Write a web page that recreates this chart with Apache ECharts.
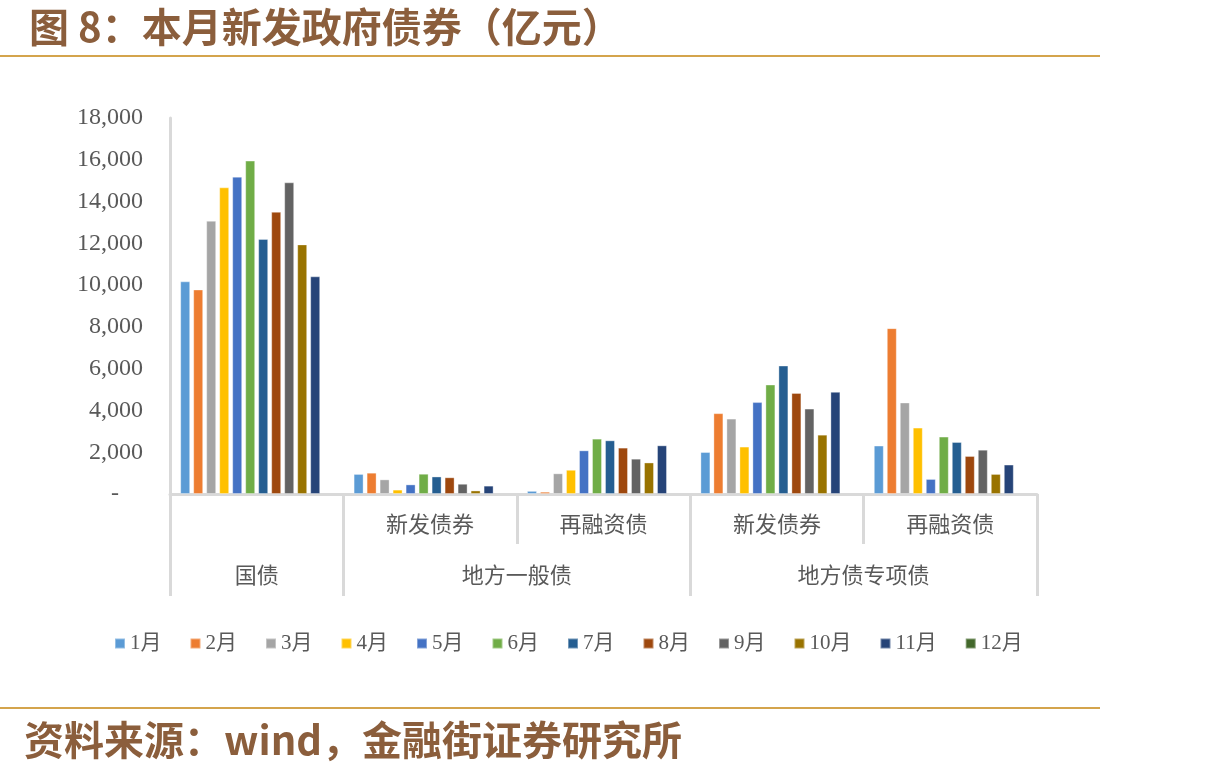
<!DOCTYPE html>
<html>
<head>
<meta charset="utf-8">
<script src="https://cdn.jsdelivr.net/npm/echarts@6/dist/echarts.min.js"></script>
<style>
  html, body { margin: 0; padding: 0; background: #fff; }
  #main { width: 1209px; height: 777px; }
</style>
</head>
<body>
<div id="main"></div>
<script>
// 子类 / 大类
var subCats = ['', '新发债券', '再融资债', '新发债券', '再融资债'];
var groupLabels = ['', '国债', '', '', '地方一般债', '', '', '', '地方债专项债', '', ''];
var groupEdges = [0, 2, 6, 10];
var months = ['1月', '2月', '3月', '4月', '5月', '6月', '7月', '8月', '9月', '10月', '11月', '12月'];
var colors = ['#5B9BD5', '#ED7D31', '#A5A5A5', '#FFC000', '#4472C4', '#70AD47',
              '#255E91', '#9E480E', '#636363', '#997300', '#264478', '#43682B'];

// 每月数值: [国债, 一般债新发, 一般债再融资, 专项债新发, 专项债再融资]
var m1  = [10180,  960,  150, 2010, 2320];
var m2  = [ 9790, 1020,  110, 3870, 7940];
var m3  = [13080,  700,  990, 3610, 4380];
var m4  = [14680,  210, 1160, 2270, 3180];
var m5  = [15190,  460, 2090, 4400,  720];
var m6  = [15960,  970, 2650, 5240, 2750];
var m7  = [12210,  840, 2570, 6150, 2490];
var m8  = [13510,  800, 2220, 4840, 1820];
var m9  = [14920,  490, 1690, 4090, 2120];
var m10 = [11950,  170, 1510, 2840,  960];
var m11 = [10420,  400, 2330, 4890, 1410];
var m12 = [null, null, null, null, null];
var monthData = [m1, m2, m3, m4, m5, m6, m7, m8, m9, m10, m11, m12];

var yMin = 0, yMax = 18000, yStep = 2000;

var chart = echarts.init(document.getElementById('main'));
var gray = '#D9D9D9';
var txt = '#595959';

var series = months.map(function (m, i) {
  return {
    name: m,
    type: 'bar',
    xAxisIndex: 0,
    barWidth: 10,
    barGap: '30%',
    itemStyle: { color: colors[i], borderColor: 'rgba(255,255,255,0.35)', borderWidth: 1 },
    data: monthData[i]
  };
});

chart.setOption({
  animation: false,
  title: {
    text: '图 8：本月新发政府债券（亿元）',
    left: 24, top: 2,
    textStyle: { color: '#8B5E3C', fontSize: 40, fontWeight: 'bold', fontFamily: 'Noto Sans CJK SC' }
  },
  color: colors,
  grid: { left: 170, right: 172, top: 118, bottom: 283 },
  legend: {
    left: 109, top: 628,
    icon: 'rect', itemWidth: 10, itemHeight: 10, itemGap: 28,
    textStyle: { color: txt, fontSize: 21, fontFamily: 'Liberation Serif, Noto Sans CJK SC' },
    data: months
  },
  xAxis: [{
    type: 'category',
    data: subCats,
    position: 'bottom',
    axisLine: { lineStyle: { color: gray, width: 3 } },
    axisTick: { show: true, length: 50, lineStyle: { color: gray, width: 3 } },
    axisLabel: { interval: 0, margin: 19, color: txt, fontSize: 22, fontFamily: 'Noto Sans CJK SC' }
  }, {
    type: 'category',
    data: groupLabels,
    boundaryGap: false,
    position: 'bottom',
    axisLine: { show: false },
    axisTick: {
      show: true, length: 102,
      interval: function (idx) { return groupEdges.indexOf(idx) >= 0; },
      lineStyle: { color: gray, width: 3 }
    },
    axisLabel: { interval: 0, margin: 70, color: txt, fontSize: 22, fontFamily: 'Noto Sans CJK SC' }
  }],
  yAxis: {
    type: 'value',
    min: yMin, max: yMax, interval: yStep,
    splitLine: { show: false },
    axisLine: { show: true, lineStyle: { color: gray, width: 3 } },
    axisTick: { show: false },
    axisLabel: {
      margin: 27, color: txt, fontSize: 24, fontFamily: 'Liberation Serif',
      formatter: function (v) {
        return v === 0 ? '-\u00a0\u00a0\u00a0\u00a0' : v.toLocaleString('en-US');
      }
    }
  },
  graphic: [
    { type: 'rect', left: 0, top: 55, shape: { width: 1100, height: 2 }, style: { fill: '#D4A44C' } },
    { type: 'rect', left: 0, top: 707, shape: { width: 1100, height: 2 }, style: { fill: '#D4A44C' } },
    {
      type: 'text', left: 24, top: 720,
      style: {
        text: '资料来源：wind，金融街证券研究所',
        fill: '#8B5E3C', fontSize: 40, fontWeight: 'bold', fontFamily: 'Noto Sans CJK SC'
      }
    }
  ],
  series: series
});
</script>
</body>
</html>
